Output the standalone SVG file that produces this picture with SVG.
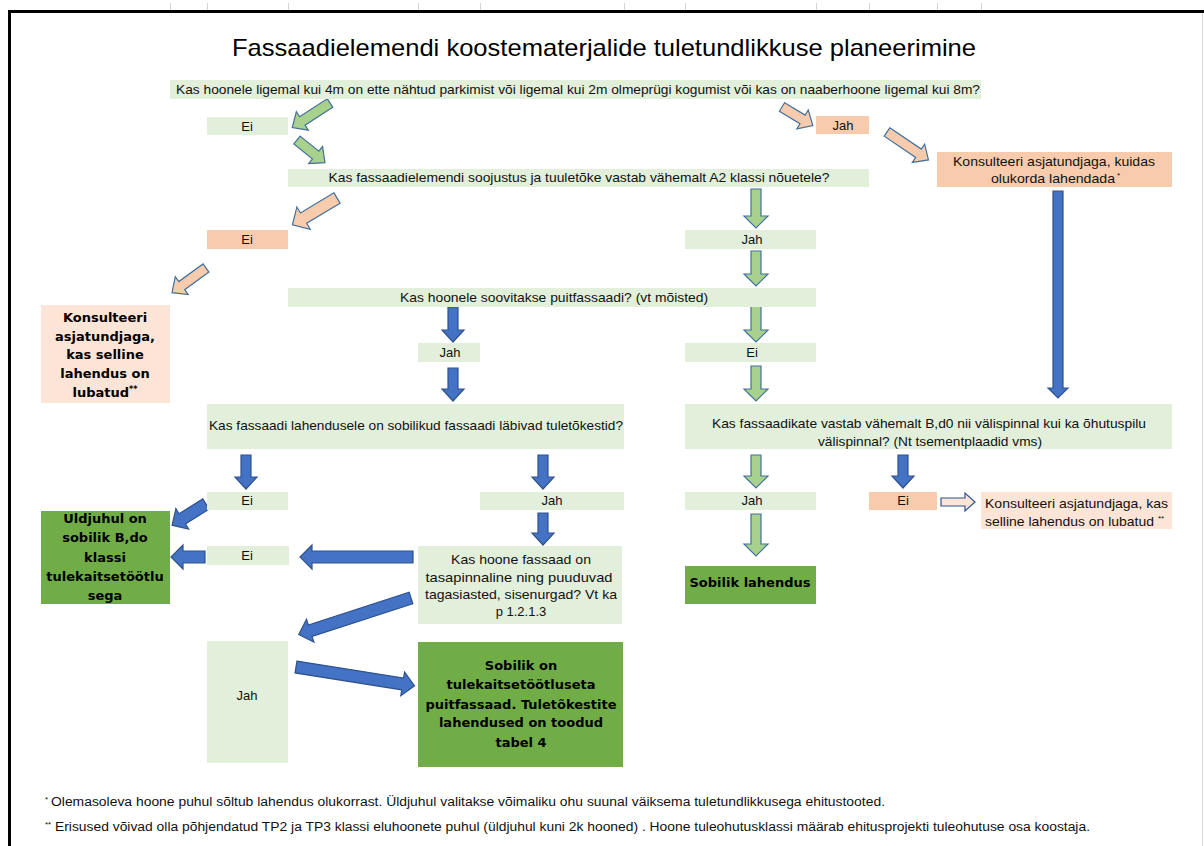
<svg xmlns="http://www.w3.org/2000/svg" width="1204" height="846" viewBox="0 0 1204 846">
<style>
text{font-family:"Liberation Sans",Arial,sans-serif;font-size:13px;fill:#111;}
.c{text-anchor:middle;}
.b{font-family:"DejaVu Sans",Verdana,sans-serif;font-weight:bold;font-size:13px;text-anchor:middle;fill:#000;}
.t{font-size:24px;text-anchor:middle;fill:#000;}
.lg{fill:#E2EFDA;}
.pe{fill:#F8CBAD;}
.lp{fill:#FCE4D6;}
.dg{fill:#70AD47;}
.ag{fill:#A9D18E;stroke:#41719C;stroke-width:1.2;}
.ap{fill:#F8CBAD;stroke:#41719C;stroke-width:1.2;}
.al{fill:#FCE4D6;stroke:#2F528F;stroke-width:1.2;}
.ab{fill:#4472C4;stroke:#2F528F;stroke-width:1.2;}
.tick{stroke:#d4d4d4;stroke-width:1;}
.fn{font-size:12px;}
.sup{font-size:8px;}
</style>
<rect width="1204" height="846" fill="#fff"/>
<g id="frame">
<line class="tick" x1="170.5" y1="3" x2="170.5" y2="10"/>
<line class="tick" x1="207.5" y1="3" x2="207.5" y2="10"/>
<line class="tick" x1="288.5" y1="3" x2="288.5" y2="10"/>
<line class="tick" x1="418.5" y1="3" x2="418.5" y2="10"/>
<line class="tick" x1="480.5" y1="3" x2="480.5" y2="10"/>
<line class="tick" x1="624.5" y1="3" x2="624.5" y2="10"/>
<line class="tick" x1="685.5" y1="3" x2="685.5" y2="10"/>
<line class="tick" x1="816.5" y1="3" x2="816.5" y2="10"/>
<line class="tick" x1="869.5" y1="3" x2="869.5" y2="10"/>
<line class="tick" x1="937.5" y1="3" x2="937.5" y2="10"/>
<line class="tick" x1="981.5" y1="3" x2="981.5" y2="10"/>
<rect x="8" y="10" width="1196" height="3" fill="#000"/>
<rect x="8" y="10" width="3" height="836" fill="#000"/>
<line x1="1202.5" y1="13" x2="1202.5" y2="846" stroke="#d8d8d8" stroke-width="1"/>
</g>
<text id="title" class="t" x="604" y="56" textLength="744" lengthAdjust="spacingAndGlyphs">Fassaadielemendi koostematerjalide tuletundlikkuse planeerimine</text>

<g id="connectors">
<polygon class="ag" transform="translate(330,103) rotate(147)" points="0,-5 33,-5 33,-11 45,0 33,11 33,5 0,5"/>
<polygon class="ag" transform="translate(297,140) rotate(39)" points="0,-5 24,-5 24,-11 36,0 24,11 24,5 0,5"/>
<polygon class="ap" transform="translate(782,107) rotate(31)" points="0,-5 24,-5 24,-11 36,0 24,11 24,5 0,5"/>
<polygon class="ap" transform="translate(887,132) rotate(34)" points="0,-5 38,-5 38,-11 50,0 38,11 38,5 0,5"/>
<polygon class="ap" transform="translate(337,198) rotate(149)" points="0,-6 39,-6 39,-13 52,0 39,13 39,6 0,6"/>
<polygon class="ap" transform="translate(206,268) rotate(144)" points="0,-5 30,-5 30,-11 42,0 30,11 30,5 0,5"/>
<polygon class="ag" transform="translate(756,189) rotate(90)" points="0,-5 27,-5 27,-12 39,0 27,12 27,5 0,5"/>
<polygon class="ag" transform="translate(756,251) rotate(90)" points="0,-5 23,-5 23,-12 35,0 23,12 23,5 0,5"/>
<polygon class="ag" transform="translate(756,306) rotate(90)" points="0,-5 24,-5 24,-12 36,0 24,12 24,5 0,5"/>
<polygon class="ag" transform="translate(756,366) rotate(90)" points="0,-5 23,-5 23,-12 35,0 23,12 23,5 0,5"/>
<polygon class="ab" transform="translate(453,307) rotate(90)" points="0,-5 23,-5 23,-11 35,0 23,11 23,5 0,5"/>
<polygon class="ab" transform="translate(453,368) rotate(90)" points="0,-5 21,-5 21,-11 33,0 21,11 21,5 0,5"/>
<polygon class="ab" transform="translate(1058,191) rotate(90)" points="0,-5 197,-5 197,-10 207,0 197,10 197,5 0,5"/>
<polygon class="ab" transform="translate(246,455) rotate(90)" points="0,-5 22,-5 22,-11 34,0 22,11 22,5 0,5"/>
<polygon class="ab" transform="translate(543,455) rotate(90)" points="0,-5 22,-5 22,-11 34,0 22,11 22,5 0,5"/>
<polygon class="ag" transform="translate(756,455) rotate(90)" points="0,-5 21,-5 21,-12 33,0 21,12 21,5 0,5"/>
<polygon class="ab" transform="translate(903,455) rotate(90)" points="0,-5 21,-5 21,-11 33,0 21,11 21,5 0,5"/>
<polygon class="al" transform="translate(941,502)" points="0,-4 24,-4 24,-9 34,0 24,9 24,4 0,4"/>
<polygon class="ab" transform="translate(206,504) rotate(148)" points="0,-6 28,-6 28,-12 40,0 28,12 28,6 0,6"/>
<polygon class="ab" transform="translate(205,557) rotate(180)" points="0,-6 22,-6 22,-12 34,0 22,12 22,6 0,6"/>
<polygon class="ab" transform="translate(413,557) rotate(180)" points="0,-6 101,-6 101,-12 113,0 101,12 101,6 0,6"/>
<polygon class="ab" transform="translate(543,513) rotate(90)" points="0,-5 20,-5 20,-11 32,0 20,11 20,5 0,5"/>
<polygon class="ab" transform="translate(411,598) rotate(162)" points="0,-6 106,-6 106,-12 118,0 106,12 106,6 0,6"/>
<polygon class="ab" transform="translate(296,667) rotate(9)" points="0,-6 108,-6 108,-12 120,0 108,12 108,6 0,6"/>
<polygon class="ag" transform="translate(756,514) rotate(90)" points="0,-5 30,-5 30,-12 42,0 30,12 30,5 0,5"/>
</g>

<g id="q1"><rect class="lg" x="170" y="80" width="811" height="19"/><text class="c" x="578" y="94" textLength="804" lengthAdjust="spacingAndGlyphs">Kas hoonele ligemal kui 4m on ette nähtud parkimist või ligemal kui 2m olmeprügi kogumist või kas on naaberhoone ligemal kui 8m?</text></g>
<g id="ei1"><rect class="lg" x="207" y="117" width="81" height="18"/><text class="c" x="247" y="131">Ei</text></g>
<g id="jah1"><rect class="pe" x="816" y="116" width="53" height="18"/><text class="c" x="843" y="130">Jah</text></g>
<g id="konsult1"><rect class="pe" x="937" y="152" width="235" height="35"/><text class="c" x="1054" y="166" textLength="202" lengthAdjust="spacingAndGlyphs">Konsulteeri asjatundjaga, kuidas</text><text x="991" y="183" textLength="124" lengthAdjust="spacingAndGlyphs">olukorda lahendada</text><text class="sup" x="1117" y="178">*</text></g>
<g id="q2"><rect class="lg" x="288" y="169" width="581" height="18"/><text class="c" x="579" y="182" textLength="501" lengthAdjust="spacingAndGlyphs">Kas fassaadielemendi soojustus ja tuuletõke vastab vähemalt A2 klassi nõuetele?</text></g>
<g id="ei2"><rect class="pe" x="207" y="230" width="81" height="19"/><text class="c" x="247" y="244">Ei</text></g>
<g id="jah2"><rect class="lg" x="685" y="230" width="131" height="19"/><text class="c" x="752" y="244">Jah</text></g>
<g id="konsult2"><rect class="lp" x="41" y="305" width="129" height="98"/>
<text class="b" x="105" y="322">Konsulteeri</text>
<text class="b" x="105" y="341">asjatundjaga,</text>
<text class="b" x="105" y="359">kas selline</text>
<text class="b" x="105" y="378">lahendus on</text>
<text class="b" x="105" y="397">lubatud<tspan font-size="8" dy="-5">**</tspan></text></g>
<g id="q3"><rect class="lg" x="288" y="288" width="528" height="19"/><text class="c" x="554" y="302" textLength="308" lengthAdjust="spacingAndGlyphs">Kas hoonele soovitakse puitfassaadi? (vt mõisted)</text></g>
<g id="jah3"><rect class="lg" x="418" y="343" width="62" height="19"/><text class="c" x="450" y="357">Jah</text></g>
<g id="ei3"><rect class="lg" x="685" y="343" width="131" height="19"/><text class="c" x="752" y="357">Ei</text></g>
<g id="q4"><rect class="lg" x="207" y="404" width="417" height="45"/><text class="c" x="416" y="430" textLength="414" lengthAdjust="spacingAndGlyphs">Kas fassaadi lahendusele on sobilikud fassaadi läbivad tuletõkestid?</text></g>
<g id="q5"><rect class="lg" x="685" y="404" width="487" height="45"/><text class="c" x="929" y="428" textLength="434" lengthAdjust="spacingAndGlyphs">Kas fassaadikate vastab vähemalt B,d0 nii välispinnal kui ka õhutuspilu</text><text class="c" x="930" y="446" textLength="224" lengthAdjust="spacingAndGlyphs">välispinnal? (Nt tsementplaadid vms)</text></g>
<g id="ei4"><rect class="lg" x="207" y="492" width="81" height="18"/><text class="c" x="247" y="505">Ei</text></g>
<g id="jah4"><rect class="lg" x="480" y="492" width="144" height="18"/><text class="c" x="552" y="505">Jah</text></g>
<g id="jah5"><rect class="lg" x="685" y="492" width="131" height="18"/><text class="c" x="752" y="505">Jah</text></g>
<g id="ei5"><rect class="pe" x="869" y="492" width="68" height="18"/><text class="c" x="903" y="505">Ei</text></g>
<g id="konsult3"><rect class="lp" x="981" y="492" width="191" height="37"/><text x="985" y="508" textLength="183" lengthAdjust="spacingAndGlyphs">Konsulteeri asjatundjaga, kas</text><text x="985" y="526" textLength="169" lengthAdjust="spacingAndGlyphs">selline lahendus on lubatud</text><text class="sup" x="1158" y="521">**</text></g>
<g id="uldjuhul"><rect class="dg" x="41" y="511" width="129" height="93"/>
<text class="b" x="105" y="523">Uldjuhul on</text>
<text class="b" x="105" y="542">sobilik B,do</text>
<text class="b" x="105" y="562">klassi</text>
<text class="b" x="105" y="581">tulekaitsetöötlu</text>
<text class="b" x="105" y="600">sega</text></g>
<g id="ei6"><rect class="lg" x="207" y="546" width="82" height="19"/><text class="c" x="247" y="560">Ei</text></g>
<g id="q6"><rect class="lg" x="418" y="546" width="204" height="78"/>
<text class="c" x="521" y="564" textLength="140" lengthAdjust="spacingAndGlyphs">Kas hoone fassaad on</text>
<text class="c" x="519" y="582" textLength="187" lengthAdjust="spacingAndGlyphs">tasapinnaline ning puuduvad</text>
<text class="c" x="521" y="599" textLength="192" lengthAdjust="spacingAndGlyphs">tagasiasted, sisenurgad? Vt ka</text>
<text class="c" x="521" y="616">p 1.2.1.3</text></g>
<g id="jah6"><rect class="lg" x="207" y="641" width="81" height="122"/><text class="c" x="247" y="700">Jah</text></g>
<g id="sobilik1"><rect class="dg" x="418" y="642" width="205" height="125"/>
<text class="b" x="521" y="670">Sobilik on</text>
<text class="b" x="521" y="689">tulekaitsetöötluseta</text>
<text class="b" x="521" y="709">puitfassaad. Tuletõkestite</text>
<text class="b" x="521" y="727">lahendused on toodud</text>
<text class="b" x="521" y="747">tabel 4</text></g>
<g id="sobilik2"><rect class="dg" x="685" y="566" width="131" height="38"/><text class="b" x="750" y="587">Sobilik lahendus</text></g>
<g id="footnotes">
<text class="sup" x="45" y="802">*</text>
<text class="fn" x="51" y="806" textLength="834" lengthAdjust="spacingAndGlyphs">Olemasoleva hoone puhul sõltub lahendus olukorrast. Üldjuhul valitakse võimaliku ohu suunal väiksema tuletundlikkusega ehitustooted.</text>
<text class="sup" x="45" y="827">**</text>
<text class="fn" x="55" y="831" textLength="1035" lengthAdjust="spacingAndGlyphs">Erisused võivad olla põhjendatud TP2 ja TP3 klassi eluhoonete puhul (üldjuhul kuni 2k hooned) . Hoone tuleohutusklassi määrab ehitusprojekti tuleohutuse osa koostaja.</text>
</g>
</svg>
